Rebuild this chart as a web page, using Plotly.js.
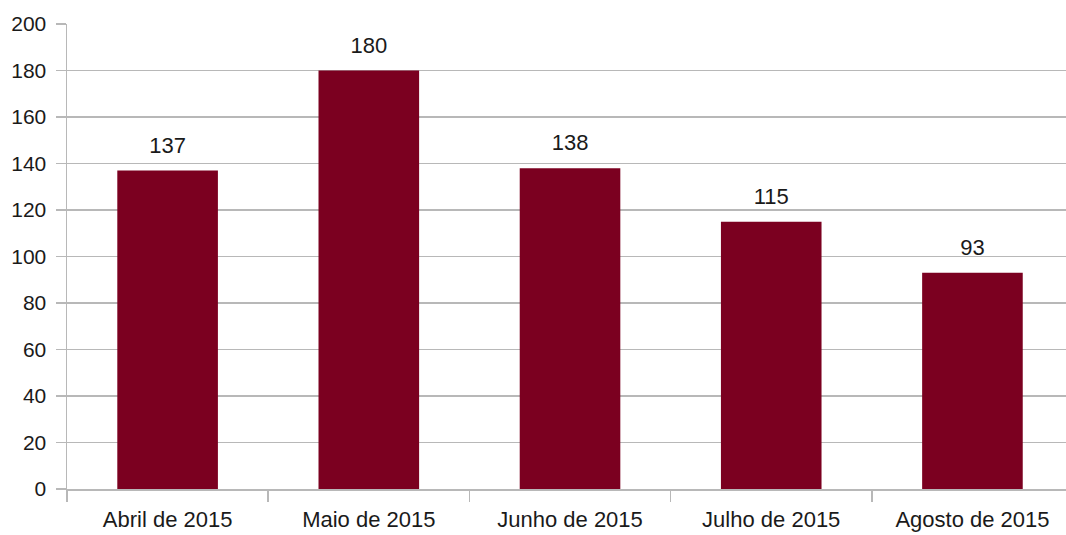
<!DOCTYPE html>
<html><head><meta charset="utf-8">
<script src="https://cdn.plot.ly/plotly-3.0.1.min.js"></script>
<style>html,body{margin:0;padding:0;background:#fff}#c{width:1066px;height:535px}</style>
</head><body><div id="c"></div>
<script>
const categories = ["Abril de 2015", "Maio de 2015", "Junho de 2015", "Julho de 2015", "Agosto de 2015"];
const values = [137, 180, 138, 115, 93];
const yTicks = [0, 20, 40, 60, 80, 100, 120, 140, 160, 180, 200];

Plotly.newPlot("c", [{
  type: "bar", x: categories, y: values,
  marker: {color: "#7b0020"},
  hoverinfo: "none"
}, {
  type: "scatter", mode: "markers+text", x: categories, y: values,
  marker: {size: 18, opacity: 0},
  text: values.map(String), textposition: "top center", cliponaxis: false,
  textfont: {family: "Liberation Sans, Arial", size: 22, color: "#1a1a1a"},
  hoverinfo: "none"
}], {
  width: 1066, height: 535,
  margin: {l: 67, r: 0, t: 24, b: 46, pad: 0},
  paper_bgcolor: "#fff", plot_bgcolor: "#fff",
  bargap: 0.5, showlegend: false,
  font: {family: "Liberation Sans, Arial", size: 22, color: "#1a1a1a"},
  xaxis: {
    range: [-0.5, 4.465], tickson: "boundaries", ticks: "outside", ticklen: 11,
    tickcolor: "#b8b8b8", tickwidth: 1.5, showgrid: false, showline: true,
    linecolor: "#b8b8b8", linewidth: 1.5, zeroline: false, fixedrange: true,
    ticklabelstandoff: 10, tickfont: {size: 22}
  },
  yaxis: {
    range: [0, 200], tickvals: yTicks, ticks: "outside", ticklen: 10,
    tickcolor: "#b8b8b8", tickwidth: 1.5, showgrid: true, gridcolor: "#b8b8b8",
    gridwidth: 1.5, showline: true, linecolor: "#b8b8b8", linewidth: 1.5,
    zeroline: false, fixedrange: true, ticklabelstandoff: 5, tickfont: {size: 21}
  }
}, {staticPlot: true});
</script></body></html>
